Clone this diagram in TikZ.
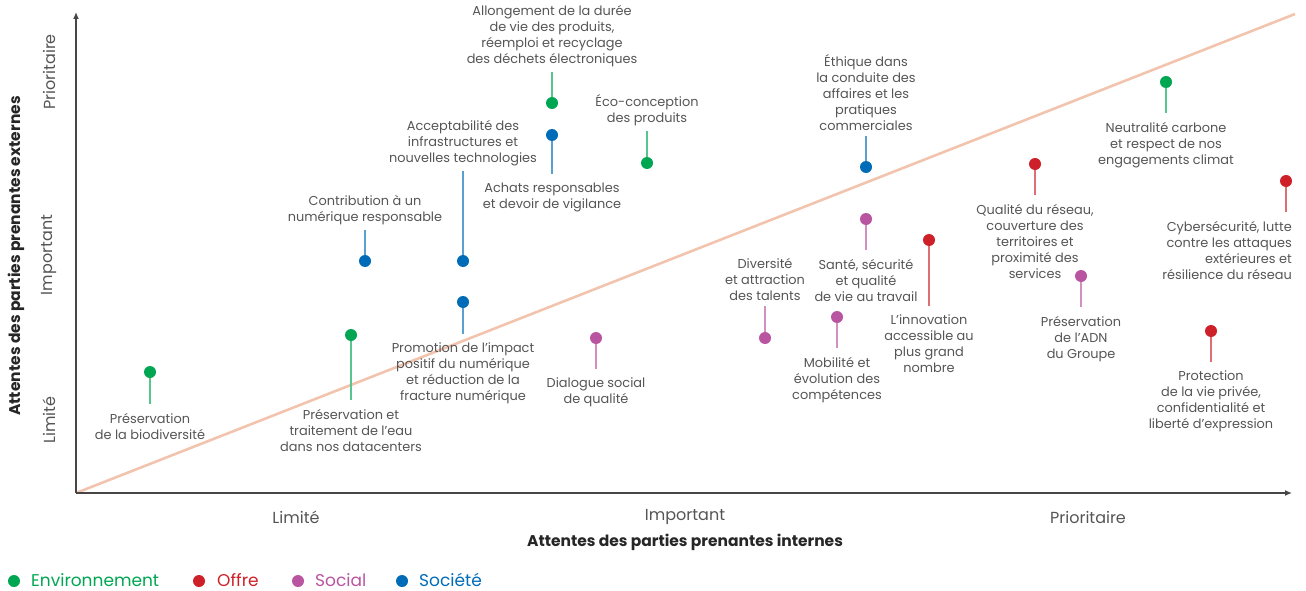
\documentclass[tikz,border=0pt]{standalone}
\usepackage{fontspec}
\setmainfont{Poppins}
\usetikzlibrary{arrows.meta}
\definecolor{env}{RGB}{0,166,81}
\definecolor{offre}{RGB}{206,32,41}
\definecolor{social}{RGB}{185,84,160}
\definecolor{societe}{RGB}{0,108,183}
\definecolor{diagline}{RGB}{242,196,174}
\definecolor{txtgray}{RGB}{85,85,85}
\definecolor{axisgray}{RGB}{70,70,70}
\tikzset{
  dot/.style={circle,fill=#1,inner sep=0pt,minimum size=12pt},
  stem/.style={line width=1.4pt,#1!65!white},
  lbl/.style={align=center,text=txtgray,font=\fontsize{12.9}{16}\selectfont,inner sep=1pt},
  lblbelow/.style={lbl,anchor=north,outer ysep=8pt},
  lblabove/.style={lbl,anchor=south,outer ysep=4pt},
  axis/.style={line width=1.3pt,axisgray,-{Latex[length=7pt,width=6pt]}},
  tick/.style={text=txtgray,font=\fontsize{16}{18}\selectfont},
  title/.style={font=\bfseries\fontsize{15.5}{18}\selectfont,text=black!85},
  legend/.style={font=\fontsize{17}{19}\selectfont,anchor=base west,inner sep=0pt}
}

\begin{document}
\begin{tikzpicture}[x=1pt,y=-1pt]
  \useasboundingbox (0,0) rectangle (1306,591);
  % axes
  \coordinate (o) at (76,493);
  \coordinate (ytop) at (76,12);
  \coordinate (xend) at (1292,493);
  \coordinate (diagend) at (1295,14);
  \draw [line width=2.6pt,diagline] (o) -- (diagend);
  \draw [axis] (o) -- (ytop);
  \draw [axis] (o) -- (xend);
  \node [tick,rotate=90] (ypri) at (49,72) {Prioritaire};
  \node [tick,rotate=90] (yimp) at (49,255) {Important};
  \node [tick,rotate=90] (ylim) at (49,420) {Limité};
  \node [title,rotate=90] (ytitle) at (16,256) {Attentes des parties prenantes externes};
  \node [tick] (xlim) at (296,517) {Limité};
  \node [tick] (ximp) at (685,517) {Important};
  \node [tick] (xpri) at (1088,517) {Prioritaire};
  \node [title] (xtitle) at (685,542) {Attentes des parties prenantes internes};

  % enjeux : environnement
  \node [dot=env] (biodiv) at (150,372) {};
  \node [lblbelow] (biodivt) at (150,404) {Préservation\\de la biodiversité};
  \draw [stem=env] (biodiv) -- (biodivt);
  \node [dot=env] (eau) at (351,335) {};
  \node [lblbelow] (eaut) at (351,400) {Préservation et\\traitement de l’eau\\dans nos datacenters};
  \draw [stem=env] (eau) -- (eaut);
  \node [dot=env] (allong) at (552,103) {};
  \node [lblabove] (allongt) at (552,72) {Allongement de la durée\\de vie des produits,\\réemploi et recyclage\\des déchets électroniques};
  \draw [stem=env] (allong) -- (allongt);
  \node [dot=env] (eco) at (647,163) {};
  \node [lblabove] (ecot) at (647,131) {Éco-conception\\des produits};
  \draw [stem=env] (eco) -- (ecot);
  \node [dot=env] (carbone) at (1166,82) {};
  \node [lblbelow] (carbonet) at (1166,113) {Neutralité carbone\\et respect de nos\\engagements climat};
  \draw [stem=env] (carbone) -- (carbonet);

  % enjeux : société
  \node [dot=societe] (contrib) at (365,261) {};
  \node [lblabove] (contribt) at (365,230) {Contribution à un\\numérique responsable};
  \draw [stem=societe] (contrib) -- (contribt);
  \node [dot=societe] (accept) at (463,261) {};
  \node [lblabove] (acceptt) at (463,171) {Acceptabilité des\\infrastructures et\\nouvelles technologies};
  \draw [stem=societe] (accept) -- (acceptt);
  \node [dot=societe] (promo) at (463,302) {};
  \node [lblbelow] (promot) at (463,334) {Promotion de l’impact\\positif du numérique\\et réduction de la\\fracture numérique};
  \draw [stem=societe] (promo) -- (promot);
  \node [dot=societe] (achats) at (552,135) {};
  \node [lblbelow] (achatst) at (552,174) {Achats responsables\\et devoir de vigilance};
  \draw [stem=societe] (achats) -- (achatst);
  \node [dot=societe] (ethique) at (866,167) {};
  \node [lblabove] (ethiquet) at (866,136) {Éthique dans\\la conduite des\\affaires et les\\pratiques\\commerciales};
  \draw [stem=societe] (ethique) -- (ethiquet);

  % enjeux : social
  \node [dot=social] (dialogue) at (596,338) {};
  \node [lblbelow] (dialoguet) at (596,369) {Dialogue social\\de qualité};
  \draw [stem=social] (dialogue) -- (dialoguet);
  \node [dot=social] (divers) at (765,338) {};
  \node [lblabove] (diverst) at (765,306) {Diversité\\et attraction\\des talents};
  \draw [stem=social] (divers) -- (diverst);
  \node [dot=social] (sante) at (866,219) {};
  \node [lblbelow] (santet) at (866,250) {Santé, sécurité\\et qualité\\de vie au travail};
  \draw [stem=social] (sante) -- (santet);
  \node [dot=social] (mobil) at (837,317) {};
  \node [lblbelow] (mobilt) at (837,348) {Mobilité et\\évolution des\\compétences};
  \draw [stem=social] (mobil) -- (mobilt);
  \node [dot=social] (adn) at (1081,276) {};
  \node [lblbelow] (adnt) at (1081,307) {Préservation\\de l’ADN\\du Groupe};
  \draw [stem=social] (adn) -- (adnt);

  % enjeux : offre
  \node [dot=offre] (innov) at (929,240) {};
  \node [lblbelow] (innovt) at (929,306) {L’innovation\\accessible au\\plus grand\\nombre};
  \draw [stem=offre] (innov) -- (innovt);
  \node [dot=offre] (qualite) at (1035,164) {};
  \node [lblbelow] (qualitet) at (1035,195) {Qualité du réseau,\\couverture des\\territoires et\\proximité des\\services};
  \draw [stem=offre] (qualite) -- (qualitet);
  \node [dot=offre] (cyber) at (1286,181) {};
  \node [lblbelow,align=right,anchor=north east] (cybert) at (1293,212) {Cybersécurité, lutte\\contre les attaques\\extérieures et\\résilience du réseau};
  \draw [stem=offre] (cyber) -- (cyber |- cybert.north);
  \node [dot=offre] (vie) at (1211,331) {};
  \node [lblbelow] (viet) at (1211,362) {Protection\\de la vie privée,\\confidentialité et\\liberté d’expression};
  \draw [stem=offre] (vie) -- (viet);

  % legende
  \node [dot=env] (lg1) at (14,581) {};
  \node [legend,text=env] (lg1t) at (31,586) {Environnement};
  \node [dot=offre] (lg2) at (199,581) {};
  \node [legend,text=offre] (lg2t) at (217,586) {Offre};
  \node [dot=social] (lg3) at (298,581) {};
  \node [legend,text=social] (lg3t) at (315,586) {Social};
  \node [dot=societe] (lg4) at (402,581) {};
  \node [legend,text=societe] (lg4t) at (419,586) {Société};
\end{tikzpicture}
\end{document}
